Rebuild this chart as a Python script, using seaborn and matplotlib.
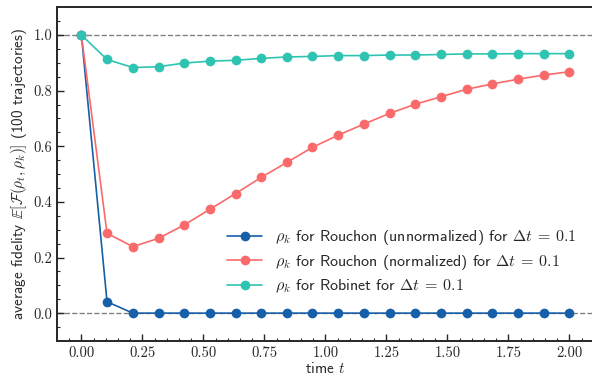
import matplotlib
matplotlib.use('Agg')
import matplotlib.pyplot as plt
import seaborn as sns
import pandas as pd
import numpy as np

# time grid (20 steps from 0 to 2)
times = [0.0, 0.105, 0.211, 0.316, 0.421, 0.526, 0.632, 0.737, 0.842, 0.947,
         1.053, 1.158, 1.263, 1.368, 1.474, 1.579, 1.684, 1.789, 1.895, 2.0]

rouchon_unnorm = [1.0, 0.041, 0.0, 0.0, 0.0, 0.0, 0.0, 0.0, 0.0, 0.0,
                  0.0, 0.0, 0.0, 0.0, 0.0, 0.0, 0.0, 0.0, 0.0, 0.0]
rouchon_norm = [1.0, 0.287, 0.239, 0.269, 0.317, 0.373, 0.430, 0.488, 0.542, 0.596,
                0.640, 0.680, 0.718, 0.751, 0.778, 0.805, 0.824, 0.841, 0.856, 0.868]
robinet = [1.0, 0.912, 0.883, 0.886, 0.899, 0.906, 0.909, 0.916, 0.921, 0.923,
           0.926, 0.926, 0.928, 0.928, 0.930, 0.932, 0.932, 0.933, 0.933, 0.933]

labels = [r'$\rho_k$ for Rouchon (unnormalized) for $\Delta t \:=\: 0.1$',
          r'$\rho_k$ for Rouchon (normalized) for $\Delta t \:=\: 0.1$',
          r'$\rho_k$ for Robinet for $\Delta t \:=\: 0.1$']
colors = ['#175fa8', '#fb6a6a', '#2ec4b1']

df = pd.concat([
    pd.DataFrame({'t': times, 'fid': vals, 'method': lab})
    for vals, lab in zip([rouchon_unnorm, rouchon_norm, robinet], labels)
])

sns.set_style('ticks')
plt.rcParams['mathtext.fontset'] = 'cm'
plt.rcParams['font.family'] = ['cmss10', 'DejaVu Sans']
plt.rcParams['axes.unicode_minus'] = False

fig, ax = plt.subplots(figsize=(5.92, 3.78), dpi=100)
# right edge of the axes sits just past the picture, as in the cropped original
fig.subplots_adjust(left=0.0963, right=1.003, top=0.981, bottom=0.098)

ax.axhline(1.0, color='grey', ls='--', lw=1.0, zorder=0)
ax.axhline(0.0, color='grey', ls='--', lw=1.0, zorder=0)

sns.lineplot(data=df, x='t', y='fid', hue='method', palette=colors,
             marker='o', markersize=7, markeredgewidth=0, linewidth=1.2,
             ax=ax, sort=False)

ax.set_xlim(-0.1, 2.1)
ax.set_ylim(-0.1, 1.1)
ax.set_xticks(np.arange(0, 2.01, 0.25))
ax.set_xticks(np.arange(-0.05, 2.1, 0.05), minor=True)
ax.set_yticks(np.arange(0, 1.01, 0.2))
ax.set_yticks(np.arange(-0.05, 1.1, 0.05), minor=True)
ax.xaxis.set_major_formatter(matplotlib.ticker.FormatStrFormatter('%.2f'))
ax.yaxis.set_major_formatter(matplotlib.ticker.FormatStrFormatter('%.1f'))
for lab in ax.get_xticklabels() + ax.get_yticklabels():
    lab.set_family('cmr10')
    lab.set_fontsize(10.5)
ax.tick_params(which='major', direction='in', length=5, width=1.0)
ax.tick_params(which='minor', direction='in', length=2.5, width=0.8)
for sp in ax.spines.values():
    sp.set_linewidth(1.4)

ax.set_xlabel(r'time $t$', fontsize=11, labelpad=1)
ax.set_ylabel(r'average fidelity $\mathbb{E}\left[\mathcal{F}(\rho_t, \rho_k)\right]$ (100 trajectories)',
              fontsize=11, labelpad=3)

ax.legend(title=None, frameon=False, loc='lower right', bbox_to_anchor=(0.995, 0.095),
          fontsize=11.5, handlelength=2.2, labelspacing=0.35, handletextpad=0.8)

fig.savefig('out.png', dpi=100)
